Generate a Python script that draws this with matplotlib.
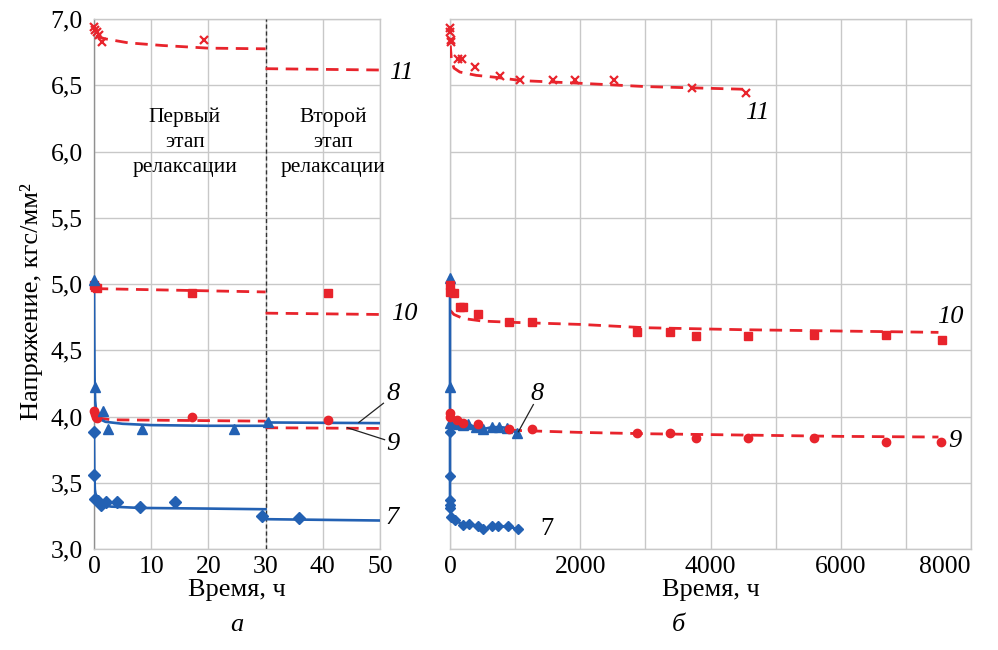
import matplotlib
matplotlib.use("Agg")
import matplotlib.pyplot as plt

plt.rcParams['font.family'] = ['Liberation Serif', 'DejaVu Serif']
plt.rcParams['lines.scale_dashes'] = False

RED = '#e8242c'
BLUE = '#2361b3'
GRID = '#c8c8c8'

# ---------- panel a (0..50 h) ----------
a11_t = [0, 0.2, 0.5, 0.8, 1.4, 19.2]
a11_v = [6.94, 6.92, 6.90, 6.88, 6.83, 6.84]
a11_fit1_t = [0.3, 2, 6, 12, 20, 30]
a11_fit1_v = [6.87, 6.85, 6.82, 6.80, 6.78, 6.775]
a11_fit2_t = [30, 50]
a11_fit2_v = [6.625, 6.615]

a10_t = [0, 0.2, 0.6, 17.1, 40.9]
a10_v = [4.99, 4.98, 4.97, 4.93, 4.93]
a10_fit1_t = [0.3, 30]
a10_fit1_v = [4.965, 4.94]
a10_fit2_t = [30, 50]
a10_fit2_v = [4.78, 4.77]

a9_t = [0, 0.1, 0.3, 0.6, 17.1, 40.9]
a9_v = [4.04, 4.02, 4.00, 3.99, 4.00, 3.97]
a9_fit1_t = [0.5, 3, 30]
a9_fit1_v = [3.99, 3.975, 3.965]
a9_fit2_t = [30, 50]
a9_fit2_v = [3.915, 3.91]

a8_t = [0, 0.1, 1.5, 2.5, 8.4, 24.4, 30.5]
a8_v = [5.03, 4.22, 4.04, 3.905, 3.905, 3.905, 3.96]
a8_fit1_t = [0, 0.05, 0.1, 0.2, 0.4, 0.7, 1, 2, 5, 10, 20, 30]
a8_fit1_v = [5.03, 4.6, 4.3, 4.12, 4.03, 4.0, 3.98, 3.96, 3.945, 3.935, 3.93, 3.93]
a8_fit2_t = [30, 50]
a8_fit2_v = [3.955, 3.95]

a7_t = [0, 0, 0.2, 0.7, 1.2, 2.1, 4, 8, 14.2, 29.4, 35.9]
a7_v = [3.88, 3.56, 3.38, 3.36, 3.33, 3.355, 3.355, 3.32, 3.355, 3.25, 3.235]
a7_fit1_t = [0, 0.05, 0.15, 0.4, 0.8, 1.5, 3, 8, 20, 30]
a7_fit1_v = [3.88, 3.6, 3.45, 3.38, 3.35, 3.33, 3.32, 3.31, 3.305, 3.30]
a7_fit2_t = [30, 50]
a7_fit2_v = [3.225, 3.215]

# ---------- panel b (0..8000 h) ----------
b11_t = [0, 4, 8, 12, 123, 185, 384, 768, 1075, 1580, 1920, 2520, 3720, 4550]
b11_v = [6.93, 6.90, 6.84, 6.83, 6.70, 6.70, 6.64, 6.57, 6.54, 6.54, 6.54, 6.54, 6.48, 6.44]
b11_fit_t = [5, 20, 60, 150, 400, 700, 1100, 2000, 3000, 4500]
b11_fit_v = [6.80, 6.70, 6.63, 6.60, 6.575, 6.56, 6.535, 6.515, 6.49, 6.47]

b10_t = [0, 4, 60, 150, 200, 430, 900, 1260, 2870, 3380, 3780, 4580, 5590, 6700, 7560]
b10_v = [4.99, 4.94, 4.93, 4.83, 4.83, 4.77, 4.71, 4.71, 4.64, 4.64, 4.61, 4.61, 4.615, 4.615, 4.58]
b10_fit_t = [5, 60, 200, 500, 1000, 2000, 3000, 4500, 6000, 7500]
b10_fit_v = [4.80, 4.77, 4.74, 4.72, 4.71, 4.695, 4.67, 4.655, 4.645, 4.635]

b9_t = [0, 4, 100, 200, 430, 900, 1260, 2870, 3380, 3780, 4580, 5590, 6700, 7540]
b9_v = [4.03, 3.995, 3.97, 3.95, 3.94, 3.905, 3.905, 3.875, 3.875, 3.84, 3.84, 3.84, 3.81, 3.81]
b9_fit_t = [5, 50, 300, 1000, 2000, 3000, 4500, 6000, 7500]
b9_fit_v = [3.95, 3.93, 3.91, 3.895, 3.88, 3.87, 3.86, 3.85, 3.845]

b8_t = [0, 0, 0, 120, 200, 280, 400, 510, 650, 750, 870, 1030]
b8_v = [5.045, 4.22, 3.95, 3.94, 3.935, 3.94, 3.92, 3.905, 3.92, 3.92, 3.915, 3.875]

b7_t = [0, 0, 0, 0, 0, 20, 77, 200, 290, 430, 510, 640, 740, 890, 1040]
b7_v = [3.88, 3.55, 3.37, 3.33, 3.31, 3.24, 3.22, 3.18, 3.19, 3.17, 3.15, 3.17, 3.17, 3.17, 3.15]

y_ticks = [3.0, 3.5, 4.0, 4.5, 5.0, 5.5, 6.0, 6.5, 7.0]
y_ticklabels = ['3,0', '3,5', '4,0', '4,5', '5,0', '5,5', '6,0', '6,5', '7,0']
a_xticks = [0, 10, 20, 30, 40, 50]
b_xticks = [0, 2000, 4000, 6000, 8000]

fig = plt.figure(figsize=(9.98, 6.5), dpi=100)
axa = fig.add_axes([94/998, 101/650, 286/998, 530/650])
axb = fig.add_axes([450/998, 101/650, 521/998, 530/650])

FS = 18.5
LFS = 19
dash = dict(linestyle='--', dashes=(9, 5.5), color=RED, lw=2.0)
blue_lw = 1.9

def style(ax):
    for s in ax.spines.values():
        s.set_color(GRID)
        s.set_linewidth(1.0)
    ax.set_ylim(3.0, 7.0)
    ax.set_yticks(y_ticks)
    ax.grid(True, which='both', color=GRID, lw=1.0)
    ax.set_axisbelow(True)
    ax.tick_params(length=0, labelsize=FS, pad=5)

# ----- panel a -----
style(axa)
axa.set_xlim(0, 50)
axa.set_xticks(a_xticks)
axa.set_yticklabels(y_ticklabels)
axa.tick_params(axis='y', pad=8)
axa.spines['left'].set_color('#909090')
axa.axvline(30, color='#333333', lw=1.0, ls=(0, (3, 2)), zorder=3)

for ft, fv in [(a11_fit1_t, a11_fit1_v), (a11_fit2_t, a11_fit2_v),
               (a10_fit1_t, a10_fit1_v), (a10_fit2_t, a10_fit2_v),
               (a9_fit1_t, a9_fit1_v), (a9_fit2_t, a9_fit2_v)]:
    axa.plot(ft, fv, **dash, zorder=4)
for ft, fv in [(a8_fit1_t, a8_fit1_v), (a8_fit2_t, a8_fit2_v),
               (a7_fit1_t, a7_fit1_v), (a7_fit2_t, a7_fit2_v)]:
    axa.plot(ft, fv, color=BLUE, lw=blue_lw, zorder=5)

axa.plot(a11_t, a11_v, ls='none', marker='x', ms=6, mew=1.6, color=RED, zorder=6, clip_on=False)
axa.plot(a10_t, a10_v, ls='none', marker='s', ms=6, color=RED, zorder=6, clip_on=False)
axa.plot(a9_t, a9_v, ls='none', marker='o', ms=6, color=RED, zorder=6, clip_on=False)
axa.plot(a8_t, a8_v, ls='none', marker='^', ms=7, color=BLUE, zorder=6, clip_on=False)
axa.plot(a7_t, a7_v, ls='none', marker='D', ms=6, color=BLUE, zorder=6, clip_on=False)

axa.text(15.9, 6.07, 'Первый\nэтап\nрелаксации', ha='center', va='center',
         fontsize=15.5, linespacing=1.4)
axa.text(41.8, 6.07, 'Второй\nэтап\nрелаксации', ha='center', va='center',
         fontsize=15.5, linespacing=1.4)

lab = dict(fontsize=LFS, style='italic', ha='left', va='center')
axa.text(51.6, 6.59, '11', **lab, clip_on=False)
axa.text(51.9, 4.77, '10', **lab, clip_on=False)
axa.text(51.2, 4.17, '8', **lab, clip_on=False)
axa.text(51.0, 3.79, '9', **lab, clip_on=False)
axa.text(51.0, 3.235, '7', **lab, clip_on=False)
axa.plot([46.3, 50.6], [3.955, 4.10], color='#222222', lw=0.9, clip_on=False, zorder=7)
axa.plot([44.3, 50.8], [3.915, 3.825], color='#222222', lw=0.9, clip_on=False, zorder=7)

axa.set_xlabel('Время, ч', fontsize=LFS, labelpad=1)
axa.set_ylabel('Напряжение, кгс/мм²', fontsize=LFS)
axa.yaxis.set_label_coords(-0.18, 0.466)
fig.text(237/998, 1 - 625/650, 'а', fontsize=LFS, style='italic', ha='center', va='center')

# ----- panel b -----
style(axb)
axb.set_xlim(0, 8000)
axb.set_xticks(b_xticks)
axb.set_xticks(range(1000, 8000, 1000), minor=True)
axb.tick_params(which='minor', length=0)
axb.set_yticklabels([])
axb.set_xticklabels([str(v) for v in b_xticks])
axb.get_xticklabels()[-1].set_ha('right')

axb.plot(b11_fit_t, b11_fit_v, **dash, zorder=4)
axb.plot(b10_fit_t, b10_fit_v, **dash, zorder=4)
axb.plot(b9_fit_t, b9_fit_v, **dash, zorder=4)
axb.plot(b11_t, b11_v, ls='none', marker='x', ms=6, mew=1.6, color=RED, zorder=6, clip_on=False)
axb.plot(b10_t, b10_v, ls='none', marker='s', ms=6, color=RED, zorder=6, clip_on=False)
axb.plot(b9_t, b9_v, ls='none', marker='o', ms=6, color=RED, zorder=6, clip_on=False)
axb.plot(b8_t, b8_v, color=BLUE, lw=blue_lw, marker='^', ms=7, zorder=5, clip_on=False)
axb.plot(b7_t, b7_v, color=BLUE, lw=blue_lw, marker='D', ms=5.5, zorder=5, clip_on=False)

axb.text(4530, 6.29, '11', **lab)
axb.text(7480, 4.75, '10', **lab)
axb.text(1230, 4.17, '8', **lab)
axb.text(7650, 3.815, '9', **lab)
axb.text(1380, 3.15, '7', fontsize=LFS, ha='left', va='center')
axb.plot([1050, 1280], [3.885, 4.09], color='#222222', lw=0.9, zorder=7)

axb.set_xlabel('Время, ч', fontsize=LFS, labelpad=1)
fig.text(678/998, 1 - 625/650, 'б', fontsize=LFS, style='italic', ha='center', va='center')

fig.savefig('out.png', dpi=100)
